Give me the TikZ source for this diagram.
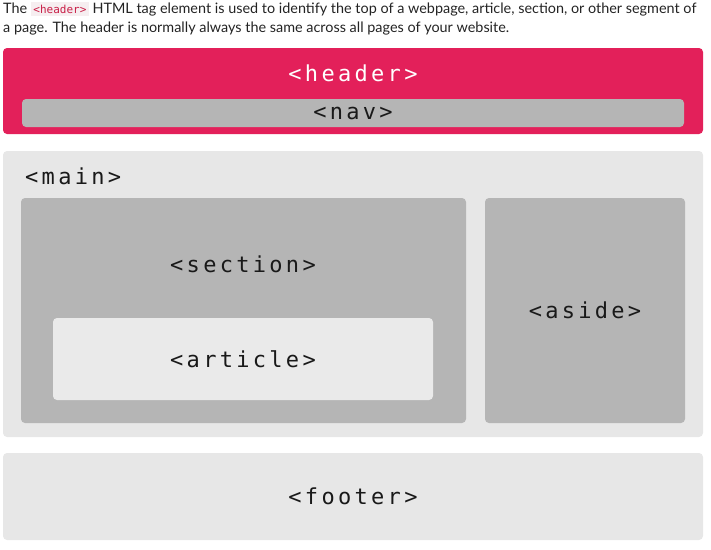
\documentclass[tikz,border=0pt]{standalone}
\usepackage{fontspec}
\setmainfont{Lato}
\newfontfamily\tagfont[LetterSpace=15]{DejaVu Sans Mono}
\newfontfamily\codefont{DejaVu Sans Mono}
\definecolor{headerred}{RGB}{227,32,90}
\definecolor{boxgray}{RGB}{181,181,181}
\definecolor{mainbg}{RGB}{231,231,231}
\definecolor{articlebg}{RGB}{234,234,234}
\definecolor{codebg}{RGB}{246,238,240}
\definecolor{codered}{RGB}{200,30,70}
\definecolor{bodytext}{RGB}{35,35,35}
\definecolor{tagtext}{RGB}{25,25,25}

\begin{document}
\begin{tikzpicture}[x=1pt, y=-1pt,
  block/.style={rectangle, rounded corners=4pt, inner sep=0pt, outer sep=0pt},
  tag/.style={font=\tagfont\fontsize{22}{22}\selectfont, text=tagtext, inner sep=0pt},
  intro/.style={font=\fontsize{14.4}{19}\selectfont, text=bodytext, align=left, inner sep=0pt}
]
\useasboundingbox (0,0) rectangle (711,549);

% Intro text above the layout
\node[intro, anchor=north west] (intro) at (3,2) {The {\setlength{\fboxsep}{2.5pt}\colorbox{codebg}{\codefont\fontsize{11}{11}\selectfont\color{codered}<header>}} HTML tag element is used to identify the top of a webpage, article, section, or other segment of\\a page. The header is normally always the same across all pages of your website.};

% Header with nav bar
\node[block, fill=headerred, minimum width=700, minimum height=86] (header) at (353,91) {};
\node[tag, text=white] (header-label) at (353,73) {<header>};
\node[block, fill=boxgray, minimum width=662, minimum height=28, tag] (nav) at (353,113) {<nav>};

% Main area
\node[block, fill=mainbg, minimum width=700, minimum height=286] (main) at (353,294) {};
\node[tag, anchor=west] (main-label) at (25,176) {<main>};

% Section with article inside
\node[block, fill=boxgray, minimum width=445, minimum height=225] (section) at (243.5,310.5) {};
\node[tag] (section-label) at (243,264) {<section>};
\node[block, fill=articlebg, minimum width=380, minimum height=82, tag] (article) at (243,359) {<article>};

% Aside next to section
\node[block, fill=boxgray, minimum width=200, minimum height=225, tag] (aside) at (585,310.5) {<aside>};

% Footer
\node[block, fill=mainbg, minimum width=700, minimum height=87, tag] (footer) at (353,496.5) {<footer>};

\end{tikzpicture}
\end{document}
